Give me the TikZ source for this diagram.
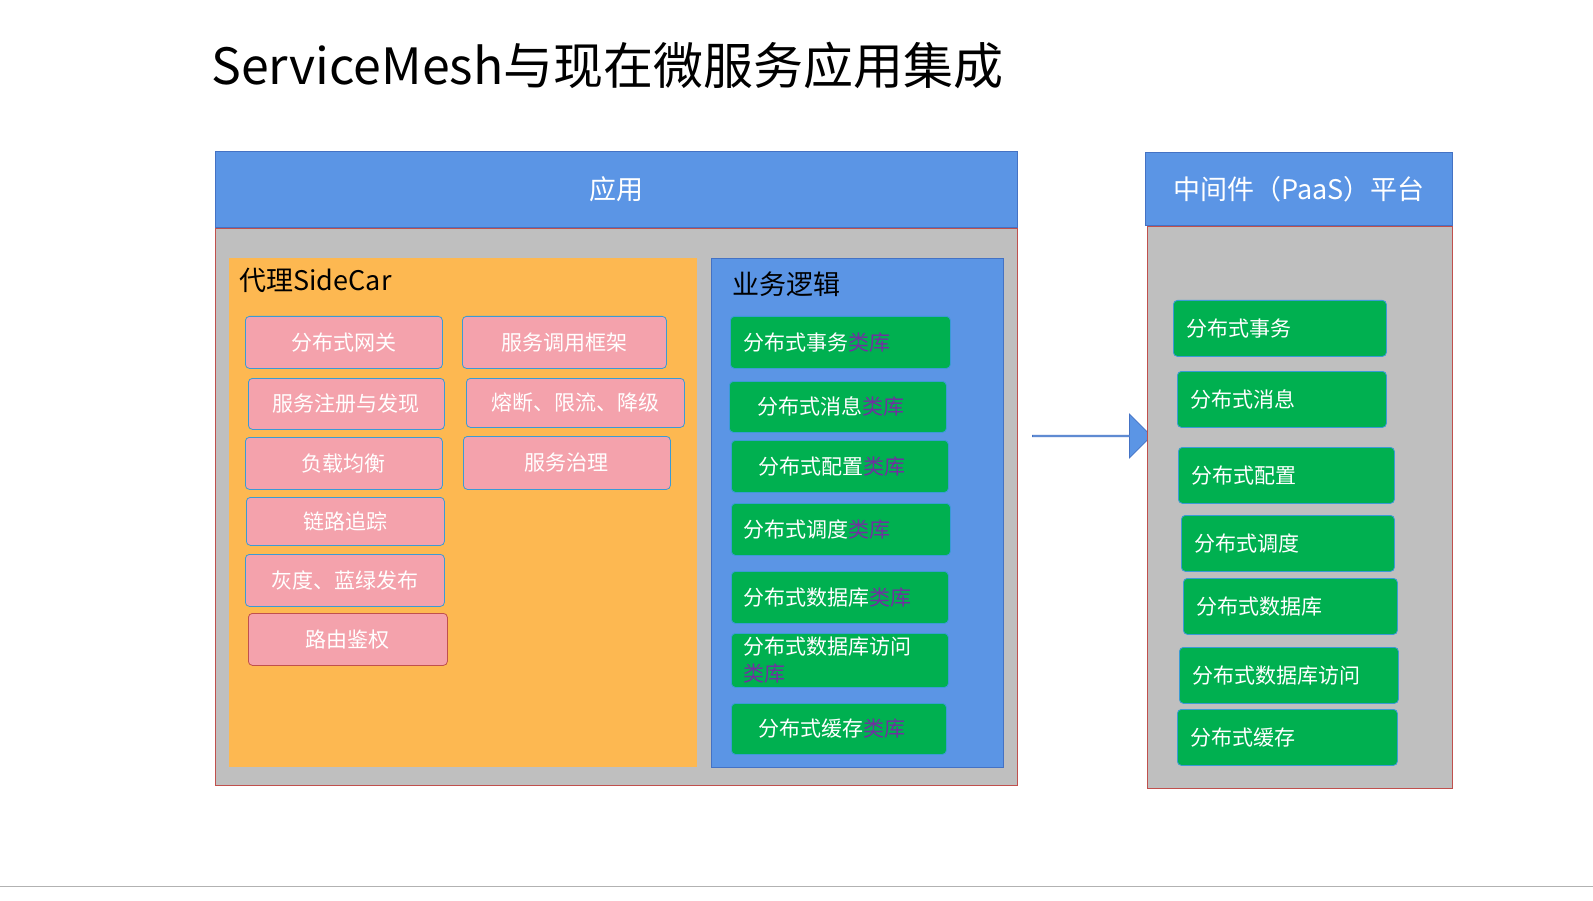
\documentclass[tikz,border=0pt]{standalone}
\usepackage{fontspec}
\setmainfont{Noto Sans CJK SC}
\usetikzlibrary{shapes.arrows}

\definecolor{hdblue}{HTML}{5B95E5}
\definecolor{hdline}{HTML}{4472C4}
\definecolor{panel}{HTML}{BFBFBF}
\definecolor{panelline}{HTML}{C0504D}
\definecolor{sidecar}{HTML}{FDB851}
\definecolor{pinkfill}{HTML}{F4A2AC}
\definecolor{boxline}{HTML}{3A9BD5}
\definecolor{greenfill}{HTML}{00B050}
\definecolor{lib}{HTML}{7030A0}

\begin{document}
\begin{tikzpicture}[%
        x = 1pt,
        y = -1pt,
        line width = 0.8pt,
        header/.style = {draw=hdline, fill=hdblue, text=white, line width=1.2pt},
        frame/.style = {draw=panelline, fill=panel},
        pinkbox/.style = {draw=boxline, fill=pinkfill, rounded corners=4pt,
            text=white, font=\fontsize{21}{24}\selectfont, inner sep=0pt},
        greenbox/.style = {draw=boxline, fill=greenfill, rounded corners=4pt, inner sep=0pt},
        greentext/.style = {text=white, font=\fontsize{21}{25}\selectfont,
            anchor=west, inner sep=0pt, align=left}
    ]

        \useasboundingbox (0,0) rectangle (1593,901);
        \draw[gray!60] (0,886) -- (1593,886);

        % Title
        \node[anchor=west, inner sep=0pt, font=\fontsize{50}{56}\selectfont]
            (title) at (211,65) {ServiceMesh与现在微服务应用集成};

        % Application side
        \node[header, anchor=north west, minimum width=802, minimum height=76]
            (app) at (215,151) {\fontsize{27}{30}\selectfont 应用};
        \node[frame, anchor=north west, minimum width=802, minimum height=557]
            (appbody) at (215,228) {};
        \node[fill=sidecar, anchor=north west, minimum width=468, minimum height=509]
            (sidecar) at (229,258) {};
        \node[anchor=west, inner sep=0pt, font=\fontsize{27}{30}\selectfont]
            (sidecarlbl) at (239,280) {代理SideCar};
        \node[draw=hdline, fill=hdblue, anchor=north west, minimum width=292, minimum height=509]
            (logic) at (711,258) {};
        \node[anchor=west, inner sep=0pt, font=\fontsize{27}{30}\selectfont]
            (logiclbl) at (732,284) {业务逻辑};

        % Sidecar functions
        \foreach \xa/\ya/\xb/\yb/\n/\t in {
            245/316/442/368/gw/分布式网关,
            462/316/666/368/rpc/服务调用框架,
            248/378/444/429/reg/服务注册与发现,
            466/378/684/427/brk/熔断、限流、降级,
            245/437/442/489/lb/负载均衡,
            463/436/670/489/gov/服务治理,
            246/497/444/545/trace/链路追踪,
            245/554/444/606/gray/灰度、蓝绿发布}
        {
            \pgfmathsetmacro\w{\xb-\xa}
            \pgfmathsetmacro\h{\yb-\ya}
            \node[pinkbox, anchor=north west, minimum width=\w, minimum height=\h]
                (\n) at (\xa,\ya) {\t};
        }
        \node[pinkbox, draw=panelline, anchor=north west, minimum width=199, minimum height=52]
            (auth) at (248,613) {路由鉴权};

        % Libraries in the business logic
        \foreach \xa/\ya/\xb/\yb/\o/\n/\t in {
            730/316/950/368/13/ltx/分布式事务,
            729/381/946/432/28/lmsg/分布式消息,
            731/440/948/492/27/lcfg/分布式配置,
            731/503/950/555/12/lsch/分布式调度,
            731/571/948/623/12/ldb/分布式数据库,
            731/703/946/754/27/lcache/分布式缓存}
        {
            \pgfmathsetmacro\w{\xb-\xa}
            \pgfmathsetmacro\h{\yb-\ya}
            \node[greenbox, anchor=north west, minimum width=\w, minimum height=\h]
                (\n) at (\xa,\ya) {};
            \node[greentext] (\n txt) at ([xshift=\o]\n.west) {\t\textcolor{lib}{类库}};
        }
        \node[greenbox, anchor=north west, minimum width=217, minimum height=54]
            (ldba) at (731,633) {};
        \node[greentext, font=\fontsize{21}{27}\selectfont] (ldbatxt) at ([xshift=12]ldba.west)
            {分布式数据库访问\\\textcolor{lib}{类库}};

        % Arrow
        \node[single arrow, draw=hdline, fill=hdblue, minimum height=119, minimum width=44,
            single arrow head extend=13, inner sep=0pt, anchor=west]
            (arrow) at (1032,436) {};

        % Middleware platform
        \node[frame, anchor=north west, minimum width=305, minimum height=562]
            (paasbody) at (1147,226) {};
        \node[header, anchor=north west, minimum width=307, minimum height=73]
            (paas) at (1145,152) {\fontsize{27}{30}\selectfont 中间件（PaaS）平台};

        \foreach \xa/\ya/\xb/\yb/\n/\t in {
            1173/300/1386/356/ptx/分布式事务,
            1177/371/1386/427/pmsg/分布式消息,
            1178/447/1394/503/pcfg/分布式配置,
            1181/515/1394/571/psch/分布式调度,
            1183/578/1397/634/pdb/分布式数据库,
            1179/647/1398/703/pdba/分布式数据库访问,
            1177/709/1397/765/pcache/分布式缓存}
        {
            \pgfmathsetmacro\w{\xb-\xa}
            \pgfmathsetmacro\h{\yb-\ya}
            \node[greenbox, anchor=north west, minimum width=\w, minimum height=\h]
                (\n) at (\xa,\ya) {};
            \node[greentext] (\n txt) at ([xshift=13]\n.west) {\t};
        }
    \end{tikzpicture}
\end{document}
